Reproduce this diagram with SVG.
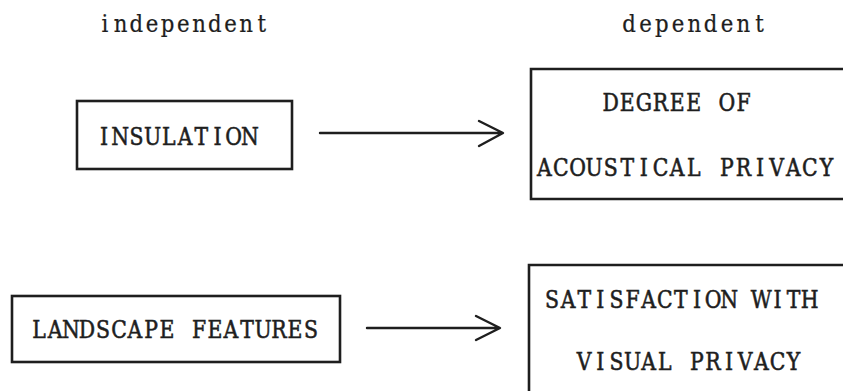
<svg xmlns="http://www.w3.org/2000/svg" width="843" height="391" viewBox="0 0 843 391">
<style>
.t{font-family:"DejaVu Serif","Liberation Serif",serif;font-size:24px;fill:#1e1e1e;stroke:#1e1e1e;stroke-width:0.6;text-anchor:middle;}
.lw{font-size:25px;stroke-width:0.25;}
.box{fill:none;stroke:#1e1e1e;stroke-width:2.6;}
.ln{fill:none;stroke:#1e1e1e;stroke-width:2.4;stroke-linecap:round;stroke-linejoin:round;}
</style>
<rect width="843" height="391" fill="#ffffff"/>
<g id="headers" transform="scale(0.85 1)">
<text class="t lw" x="123.35 141.82 160.29 178.76 197.23 215.71 234.18 252.65 271.12 289.59 308.06" y="32">independent</text>
<text class="t lw" x="740.18 759.36 778.53 797.71 816.89 836.06 855.24 874.41 893.59" y="32">dependent</text>
</g>
<g id="insulation">
<rect class="box" x="77" y="101" width="215" height="68"/>
<text class="t" transform="scale(0.85 1)" x="122.47 141.53 160.59 179.65 198.71 217.76 236.82 255.88 274.94 294.00" y="145">INSULATION</text>
</g>
<g id="acoustical">
<path class="box" d="M845,69 L531,69 L531,199 L845,199"/>
<text class="t" transform="scale(0.85 1)" x="718.47 738.00 757.53 777.06 796.59 816.12 835.65 855.18 874.71" y="111">DEGREE OF</text>
<text class="t" transform="scale(0.85 1)" x="640.35 659.88 679.41 698.94 718.47 738.00 757.53 777.06 796.59 816.12 835.65 855.18 874.71 894.24 913.76 933.29 952.82 972.35" y="176">ACOUSTICAL PRIVACY</text>
</g>
<g id="landscape">
<rect class="box" x="12" y="296" width="328" height="66"/>
<text class="t" transform="scale(0.85 1)" x="45.88 64.71 83.53 102.35 121.18 140.00 158.82 177.65 196.47 215.29 234.12 252.94 271.76 290.59 309.41 328.24 347.06 365.88" y="338">LANDSCAPE FEATURES</text>
</g>
<g id="visual">
<path class="box" d="M845,265 L529,265 L529,393"/>
<text class="t" transform="scale(0.85 1)" x="649.47 668.41 687.35 706.29 725.24 744.18 763.12 782.06 801.00 819.94 838.88 857.82 876.76 895.71 914.65 933.59 952.53" y="308">SATISFACTION WITH</text>
<text class="t" transform="scale(0.85 1)" x="687.35 706.29 725.24 744.18 763.12 782.06 801.00 819.94 838.88 857.82 876.76 895.71 914.65 933.59" y="370">VISUAL PRIVACY</text>
</g>
<g id="connectors">
<path class="ln" d="M320,133 L502,133 M479,121 L503,133 L479,146"/>
<path class="ln" d="M367,328 L499,328 M476,316 L500,328 L476,340"/>
</g>
</svg>
